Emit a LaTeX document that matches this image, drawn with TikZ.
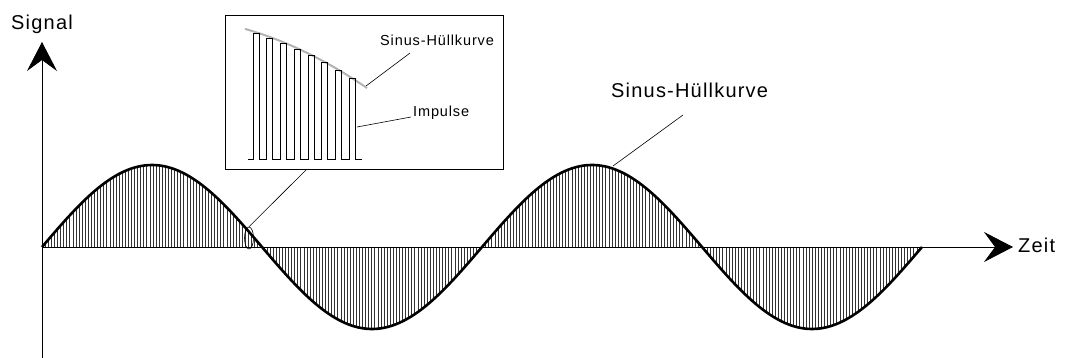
\documentclass[tikz,border=0pt]{standalone}
\usepackage{fontspec}
\setmainfont{Liberation Sans}
\usetikzlibrary{arrows.meta,shapes.geometric}
\begin{document}
\begin{tikzpicture}[x=1pt,y=-1pt,
  axisline/.style={line width=0.8pt,-{Stealth[length=29pt,width=30pt,inset=11pt]}},
  bigtext/.style={inner sep=0pt,font=\fontsize{20}{22}\selectfont\addfontfeature{LetterSpace=6}},
  smalltext/.style={inner sep=0pt,font=\fontsize{14.5}{16}\selectfont\addfontfeature{LetterSpace=6}},
  thinline/.style={line width=0.6pt},
  hatch/.style={line width=0.45pt,black!80},
  envelope/.style={line width=2.6pt,line join=round},
]
\useasboundingbox (0,0) rectangle (1070,358);
% hatching
\foreach \i in {0,...,285}{
  \pgfmathsetmacro{\xx}{42+\i*3.08}
  \draw[hatch] (\xx,247) -- (\xx,{247-82*sin((\xx-42)*0.8181818)});
}
% sine envelope
\draw[envelope] plot[domain=42:922,samples=240,smooth] (\x,{247-82*sin((\x-42)*0.8181818)});
% axes
\coordinate (ybot) at (42,358);
\coordinate (ytop) at (42,42);
\coordinate (xl) at (42,247);
\coordinate (xr) at (1013,247);
\draw[axisline] (ybot) -- (ytop);
\draw[axisline] (xl) -- (xr);
\node[bigtext,anchor=base west] (signal) at (11,29.3) {Signal};
\node[bigtext,anchor=base west] (zeit) at (1018,252.3) {Zeit};
% main label
\node[bigtext,anchor=base west] (lblmain) at (611,97.3) {Sinus-Hüllkurve};
\coordinate (mainA) at (683,115);
\coordinate (mainB) at (613,166);
\draw[thinline] (mainA) -- (mainB);
% magnifier ellipse
\node[draw,thinline,ellipse,minimum width=9pt,minimum height=22pt,inner sep=0pt] (ell) at (249,238) {};
% inset box
\node[draw,thinline,minimum width=278pt,minimum height=154pt,inner sep=0pt] (box) at (364,92) {};
\coordinate (boxleader) at (307,169);
\draw[thinline] (boxleader) -- (ell.north);
% gray envelope in inset
\draw[line width=2pt,black!30] plot[domain=245:367,samples=40,smooth] (\x,{31.3+0.31*(\x-253)+0.00165*(\x-253)^2});
% pulses
\draw[thinline] (248,159)
  \foreach \i in {0,...,7}{
    -- ({253+\i*13.7},159)
    -- ({253+\i*13.7},{33.3+0.31*(\i*13.7)+0.00165*(\i*13.7)^2})
    -- ({259+\i*13.7},{33.3+0.31*(\i*13.7)+0.00165*(\i*13.7)^2})
    -- ({259+\i*13.7},159)
  } -- (362,159);
% inset labels
\node[smalltext,anchor=base west] (lblinset) at (380,46) {Sinus-Hüllkurve};
\node[smalltext,anchor=base west] (lblimp) at (413,116.5) {Impulse};
\coordinate (envA) at (366,86);
\coordinate (envB) at (410,53);
\draw[thinline] (envA) -- (envB);
\coordinate (impA) at (357,127);
\coordinate (impB) at (411,117);
\draw[thinline] (impA) -- (impB);
\end{tikzpicture}
\end{document}
